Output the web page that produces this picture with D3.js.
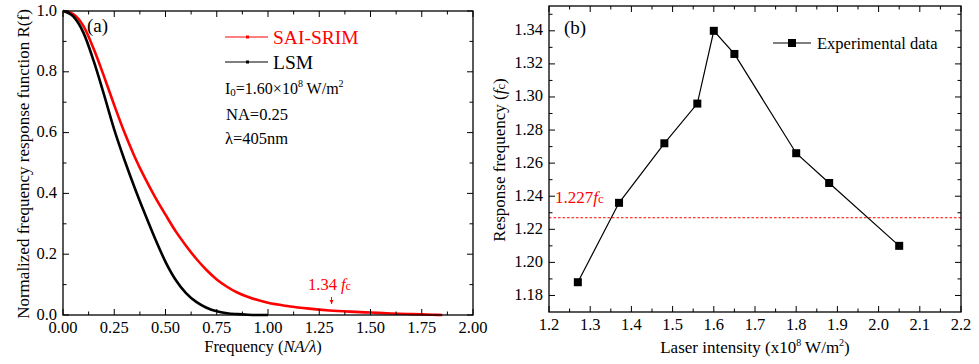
<!DOCTYPE html>
<html>
<head>
<meta charset="utf-8">
<script src="https://cdn.jsdelivr.net/npm/d3@7"></script>
<style>
  body { margin: 0; background: #fff; }
  svg, svg text { font-family: "Liberation Serif", serif; }
</style>
</head>
<body>
<svg id="chart" width="979" height="364" font-family="Liberation Serif"></svg>
<script>
// panel (a): frequency response curves
const freqA = [0, 0.05, 0.10, 0.15, 0.20, 0.25, 0.30, 0.35, 0.40, 0.45, 0.50, 0.55, 0.60, 0.65, 0.70, 0.75, 0.80, 0.85, 0.90, 0.95, 1.00];
const lsm = [1.0, 0.982, 0.928, 0.835, 0.725, 0.61, 0.51, 0.418, 0.332, 0.25, 0.175, 0.115, 0.072, 0.043, 0.024, 0.012, 0.006, 0.003, 0.001, 0, 0];
const freqR = [0, 0.05, 0.10, 0.15, 0.20, 0.25, 0.30, 0.35, 0.40, 0.45, 0.50, 0.55, 0.60, 0.65, 0.70, 0.75, 0.80, 0.85, 0.90, 0.95, 1.00, 1.10, 1.20, 1.30, 1.40, 1.50, 1.60, 1.70, 1.80, 1.85];
const saiSrim = [1.0, 0.99, 0.95, 0.875, 0.785, 0.69, 0.6, 0.52, 0.45, 0.387, 0.33, 0.275, 0.228, 0.185, 0.148, 0.117, 0.093, 0.074, 0.06, 0.049, 0.04, 0.029, 0.021, 0.015, 0.011, 0.008, 0.005, 0.003, 0.001, 0];
const xTicksA = [0, 0.25, 0.5, 0.75, 1.0, 1.25, 1.5, 1.75, 2.0];
const yTicksA = [0, 0.2, 0.4, 0.6, 0.8, 1.0];

// panel (b): experimental data
const intensity = [1.27, 1.37, 1.48, 1.56, 1.60, 1.65, 1.80, 1.88, 2.05];
const respFreq = [1.188, 1.236, 1.272, 1.296, 1.340, 1.326, 1.266, 1.248, 1.210];
const refLevel = 1.227;
const xTicksB = [1.2, 1.3, 1.4, 1.5, 1.6, 1.7, 1.8, 1.9, 2.0, 2.1, 2.2];
const yTicksB = [1.18, 1.20, 1.22, 1.24, 1.26, 1.28, 1.30, 1.32, 1.34];

const svg = d3.select('#chart');
const RED = '#ff0000';
const FONT = 'Liberation Serif';

function frame(g, x, y, xMajor, xMinor, yMajor, yMinor, xFmt, yFmt) {
  const [x0, x1] = x.range();
  const [y0, y1] = y.range(); // y0 bottom, y1 top
  const tk = (vals, len) => {
    vals.forEach(v => {
      const px = x(v);
      g.append('line').attr('x1', px).attr('x2', px).attr('y1', y0).attr('y2', y0 - len).attr('stroke', '#000');
      g.append('line').attr('x1', px).attr('x2', px).attr('y1', y1).attr('y2', y1 + len).attr('stroke', '#000');
    });
  };
  tk(xMajor, 6);
  tk(xMinor, 3.5);
  const tky = (vals, len) => {
    vals.forEach(v => {
      const py = y(v);
      g.append('line').attr('x1', x0).attr('x2', x0 + len).attr('y1', py).attr('y2', py).attr('stroke', '#000');
      g.append('line').attr('x1', x1).attr('x2', x1 - len).attr('y1', py).attr('y2', py).attr('stroke', '#000');
    });
  };
  tky(yMajor, 6);
  tky(yMinor, 3.5);
  g.append('rect').attr('x', x0).attr('y', y1).attr('width', x1 - x0).attr('height', y0 - y1)
    .attr('fill', 'none').attr('stroke', '#000').attr('stroke-width', 1.3);
  xMajor.forEach(v => {
    g.append('text').attr('x', x(v)).attr('y', y0 + 18).attr('text-anchor', 'middle')
      .attr('font-family', FONT).attr('font-size', 16.5).text(xFmt(v));
  });
  yMajor.forEach(v => {
    g.append('text').attr('x', x0 - 6).attr('y', y(v) + 4.5).attr('text-anchor', 'end')
      .attr('font-family', FONT).attr('font-size', 16.5).text(yFmt(v));
  });
}

// ---------- panel (a)
const xa = d3.scaleLinear().domain([0, 2]).range([63, 473]);
const ya = d3.scaleLinear().domain([0, 1]).range([315, 11]);
const ga = svg.append('g').attr('font-family', FONT);

const lineA = d3.line().curve(d3.curveMonotoneX);
ga.append('path')
  .attr('d', lineA(freqR.map((f, i) => [xa(f), ya(saiSrim[i])])))
  .attr('fill', 'none').attr('stroke', RED).attr('stroke-width', 2.6);
ga.append('path')
  .attr('d', lineA(freqA.map((f, i) => [xa(f), ya(lsm[i])])))
  .attr('fill', 'none').attr('stroke', '#000').attr('stroke-width', 2.6);

frame(ga, xa, ya, xTicksA, d3.range(0.125, 2, 0.25), yTicksA, [0.1, 0.3, 0.5, 0.7, 0.9],
  d3.format('.2f'), d3.format('.1f'));

ga.append('text').attr('x', 87).attr('y', 32).attr('font-size', 19).text('(a)');

// legend (a)
[['SAI-SRIM', RED, 37], ['LSM', '#000', 62]].forEach(([name, c, yy]) => {
  ga.append('line').attr('x1', 225).attr('x2', 268).attr('y1', yy).attr('y2', yy).attr('stroke', c).attr('stroke-width', 1);
  ga.append('rect').attr('x', 246).attr('y', yy - 1.5).attr('width', 3).attr('height', 3).attr('fill', c);
  ga.append('text').attr('x', 273).attr('y', yy + 7).attr('font-size', 19.5).attr('fill', c).text(name);
});
const info = ga.append('text').attr('x', 225).attr('y', 94).attr('font-size', 16);
info.append('tspan').text('I');
info.append('tspan').attr('font-size', 11).attr('dy', 2).text('0');
info.append('tspan').attr('dy', -2).text('=1.60×10');
info.append('tspan').attr('font-size', 10).attr('dy', -7).text('8');
info.append('tspan').attr('dy', 7).text(' W/m');
info.append('tspan').attr('font-size', 10).attr('dy', -7).text('2');
ga.append('text').attr('x', 226).attr('y', 120).attr('font-size', 16.5).text('NA=0.25');
ga.append('text').attr('x', 225).attr('y', 144).attr('font-size', 16.5).text('λ=405nm');

// 1.34 fc annotation
const ann = ga.append('text').attr('x', 308).attr('y', 290).attr('font-size', 16.5).attr('fill', RED);
ann.append('tspan').text('1.34 ');
ann.append('tspan').attr('font-style', 'italic').text('f');
ann.append('tspan').attr('font-size', 12).text('c');
ga.append('line').attr('x1', xa(1.31)).attr('x2', xa(1.31)).attr('y1', 297).attr('y2', 304)
  .attr('stroke', RED).attr('stroke-width', 1);
ga.append('path').attr('d', `M${xa(1.31) - 2},${300}L${xa(1.31) + 2},${300}L${xa(1.31)},${304}Z`).attr('fill', RED);

// axis titles (a)
const xtA = ga.append('text').attr('x', 263).attr('y', 352).attr('text-anchor', 'middle').attr('font-size', 16.5);
xtA.append('tspan').text('Frequency (');
xtA.append('tspan').attr('font-style', 'italic').text('NA/λ');
xtA.append('tspan').text(')');
ga.append('text').attr('transform', 'translate(29,164) rotate(-90)').attr('text-anchor', 'middle')
  .attr('font-size', 17).text('Normalized frequency response function R(f)');

// ---------- panel (b)
const xb = d3.scaleLinear().domain([1.2, 2.2]).range([549, 961]);
const yb = d3.scaleLinear().domain([1.17, 1.355]).range([312, 6]);
const gb = svg.append('g').attr('font-family', FONT);

gb.append('line').attr('x1', xb(1.2)).attr('x2', xb(2.2)).attr('y1', yb(refLevel)).attr('y2', yb(refLevel))
  .attr('stroke', RED).attr('stroke-width', 1).attr('stroke-dasharray', '2.5,2');

frame(gb, xb, yb, xTicksB, d3.range(1.25, 2.2, 0.1), yTicksB, d3.range(1.19, 1.35, 0.02),
  d3.format('.1f'), d3.format('.2f'));

gb.append('path')
  .attr('d', d3.line()(intensity.map((v, i) => [xb(v), yb(respFreq[i])])))
  .attr('fill', 'none').attr('stroke', '#000').attr('stroke-width', 1.2);
gb.selectAll('rect.pt').data(intensity).enter().append('rect').attr('class', 'pt')
  .attr('x', d => xb(d) - 4).attr('y', (d, i) => yb(respFreq[i]) - 4)
  .attr('width', 8).attr('height', 8).attr('fill', '#000');

gb.append('text').attr('x', 564).attr('y', 34).attr('font-size', 19).text('(b)');

// legend (b)
gb.append('line').attr('x1', 773).attr('x2', 811).attr('y1', 43).attr('y2', 43).attr('stroke', '#000').attr('stroke-width', 1.2);
gb.append('rect').attr('x', 788).attr('y', 39).attr('width', 8).attr('height', 8).attr('fill', '#000');
gb.append('text').attr('x', 817).attr('y', 49).attr('font-size', 16.5).text('Experimental data');

const lb = gb.append('text').attr('x', 555).attr('y', 203).attr('font-size', 17).attr('fill', RED);
lb.append('tspan').text('1.227');
lb.append('tspan').attr('font-style', 'italic').text('f');
lb.append('tspan').attr('font-size', 12.5).text('c');

const xtB = gb.append('text').attr('x', 755).attr('y', 353).attr('text-anchor', 'middle').attr('font-size', 17);
xtB.append('tspan').text('Laser intensity (x10');
xtB.append('tspan').attr('font-size', 10).attr('dy', -7).text('8');
xtB.append('tspan').attr('dy', 7).text(' W/m');
xtB.append('tspan').attr('font-size', 10).attr('dy', -7).text('2');
xtB.append('tspan').attr('dy', 7).text(')');

const ytB = gb.append('text').attr('transform', 'translate(505,160) rotate(-90)').attr('text-anchor', 'middle').attr('font-size', 17);
ytB.append('tspan').text('Response frequency (');
ytB.append('tspan').attr('font-style', 'italic').text('f');
ytB.append('tspan').attr('font-size', 12.5).text('c');
ytB.append('tspan').text(')');
</script>
</body>
</html>
